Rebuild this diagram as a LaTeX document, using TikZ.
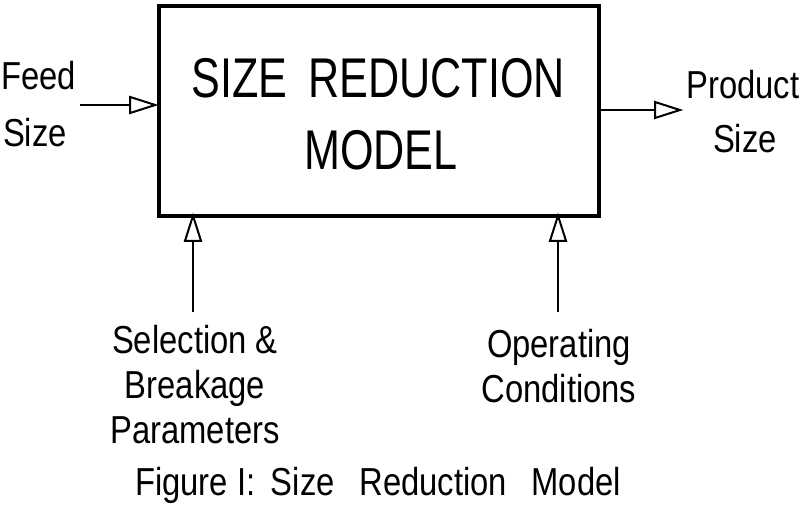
\documentclass[tikz,border=0pt]{standalone}
\usepackage{fontspec}
\setmainfont{Liberation Sans}[FakeStretch=0.84]
\newfontfamily\titlefont{Liberation Sans}[FakeStretch=0.77]
\begin{document}
\begin{tikzpicture}[x=1pt,y=-1pt,
  headtri/.pic={\draw[line width=2pt, line join=miter, fill=white] (0,0) -- (-25,-8) -- (-25,8) -- cycle;},
  lbl/.style={font=\fontsize{39}{45}\selectfont, inner sep=0pt, align=center},
  ttl/.style={font=\titlefont\fontsize{56}{72}\selectfont, inner sep=0pt, align=center},
  flow/.style={line width=2.4pt}]
\useasboundingbox (0,0) rectangle (800,505);
\node[draw, line width=3.6pt, minimum width=440pt, minimum height=210pt, anchor=north west] (box) at (157,4) {};
\node[ttl] (t1) at (378,78) {SIZE \,REDUCTION};
\node[ttl] (t2) at (381,150) {MODEL};
\node[lbl, anchor=west] (feed) at (1,76) {Feed};
\node[lbl] (fsize) at (35,133) {Size};
\node[lbl] (prod) at (743,85) {Product};
\node[lbl] (psize) at (745,139) {Size};
\node[lbl] (sel) at (195,385) {Selection \&\\Breakage\\Parameters};
\node[lbl] (op) at (559,366) {Operating\\Conditions};
\node[lbl] (cap) at (378,485) {Figure I:\, Size \, Reduction \, Model};
\coordinate (fs) at (80,105);
\coordinate (pe) at (680,110);
\coordinate (s1) at (193,312);
\coordinate (s2) at (558,312);
\coordinate (fe) at ([xshift=-1.8pt]fs -| box.west);
\coordinate (ps) at (pe -| box.east);
\coordinate (e1) at ([yshift=1.8pt]s1 |- box.south);
\coordinate (e2) at ([yshift=1.8pt]s2 |- box.south);
\draw[flow] (fs) -- (fe);
\draw[flow] (ps) -- (pe);
\draw[flow] (s1) -- (e1);
\draw[flow] (s2) -- (e2);
\pic at (fe) {headtri};
\pic at (pe) {headtri};
\pic[rotate=90] at (e1) {headtri};
\pic[rotate=90] at (e2) {headtri};
\end{tikzpicture}
\end{document}
